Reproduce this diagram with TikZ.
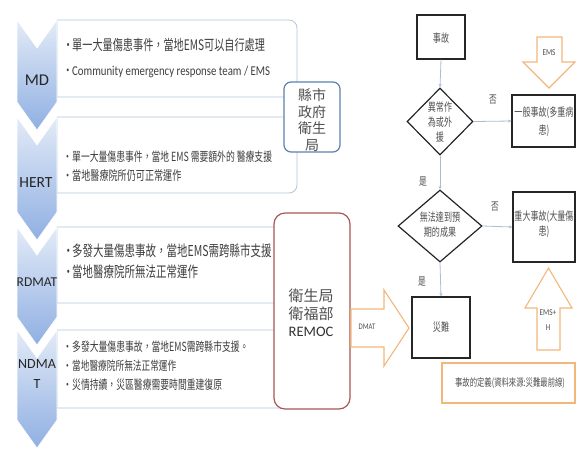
\documentclass[tikz,border=0pt]{standalone}
\usepackage{fontspec}
\setmainfont{Carlito}
\newfontfamily\cjk[FakeStretch=0.7]{Noto Sans CJK TC}
\newfontfamily\cjkn{Noto Sans CJK TC}
\newfontfamily\latc[FakeStretch=0.8]{Carlito}
\usetikzlibrary{shapes.geometric,arrows.meta}
\definecolor{boxline}{HTML}{B4C4DA}
\definecolor{chevtop}{HTML}{E3EBF7}
\definecolor{chevbot}{HTML}{8FAFE2}
\definecolor{labc}{HTML}{262626}
\definecolor{txtc}{HTML}{3F3F3F}
\definecolor{steel}{HTML}{5A82AE}
\definecolor{redb}{HTML}{A95656}
\definecolor{orng}{HTML}{F2B77A}
\definecolor{connc}{HTML}{A9BDD6}
\definecolor{flowtxt}{HTML}{505050}
\newcommand{\fs}[2]{\fontsize{#1}{#2}\selectfont}
\newcommand{\bul}{\makebox[9pt][l]{\cjk •}}
\begin{document}
\begin{tikzpicture}[x=1pt,y=-1pt,
  lbox/.style={draw=boxline, fill=white, line width=0.8pt},
  chev/.style={top color=chevtop, bottom color=chevbot, draw=white, line width=0.6pt},
  chevlab/.style={text=labc, inner sep=0pt},
  ltxt/.style={anchor=west, inner sep=0pt, text=txtc},
  fbox/.style={draw=black!85, line width=1.2pt, fill=white, inner sep=0pt},
  fdia/.style={diamond, draw=black!85, line width=1.2pt, fill=white, inner sep=0pt},
  ftxt/.style={text=flowtxt, align=center, inner sep=0pt, font=\cjk\fs{11.5}{15}},
  conn/.style={draw=connc, line width=0.8pt, -{Stealth[length=3.5pt,width=3pt]}},
  oarrow/.style={draw=orng, line width=1.1pt, fill=white, line join=miter},
  yn/.style={text=flowtxt, inner sep=0pt, font=\cjk\fs{11}{12}}
]
\useasboundingbox[fill=white] (0,0) rectangle (580,448);

% ---- left text boxes
\draw[lbox] (57,20) [rounded corners=8pt] -- (297,20) -- (297,97) [sharp corners] -- (57,97) -- cycle;
\draw[lbox] (57,117) [rounded corners=8pt] -- (297,117) -- (297,193) [sharp corners] -- (57,193) -- cycle;
\draw[lbox] (57,227) [rounded corners=8pt] -- (297,227) -- (297,303) [sharp corners] -- (57,303) -- cycle;
\draw[lbox] (57,330) [rounded corners=8pt] -- (297,330) -- (297,408) [sharp corners] -- (57,408) -- cycle;

% ---- chevrons
\path[chev] (17,20) -- (37,48) -- (57,20) -- (57,102) -- (37,130) -- (17,102) -- cycle;
\path[chev] (17,117) -- (37,145) -- (57,117) -- (57,212) -- (37,240) -- (17,212) -- cycle;
\path[chev] (17,227) -- (37,255) -- (57,227) -- (57,317) -- (37,345) -- (17,317) -- cycle;
\path[chev] (17,330) -- (37,358) -- (57,330) -- (57,420) -- (37,448) -- (17,420) -- cycle;

\node[chevlab, font=\fs{16.5}{16}] (lmd) at (37,80) {MD};
\node[chevlab, font=\fs{15.5}{16}] (lhert) at (36,183) {HERT};
\node[chevlab, font=\fs{13.5}{14}] (lrdmat) at (37,282) {RDMAT};
\node[chevlab, font=\fs{14}{20}, align=center] (lndmat) at (37,374) {NDMA\\T};

% ---- box texts
\node[ltxt, font=\cjk\fs{14.5}{15}] (md1) at (63,45) {\bul 單一大量傷患事件，當地EMS可以自行處理};
\node[ltxt, font=\latc\fs{13.5}{15}] (md2) at (63,72) {\bul Community emergency response team / EMS};
\node[ltxt, font=\cjk\fs{12.6}{14}] (ht1) at (63,157) {\bul 單一大量傷患事件，當地 EMS 需要額外的 醫療支援};
\node[ltxt, font=\cjk\fs{13}{14}] (ht2) at (63,176) {\bul 當地醫療院所仍可正常運作};
\node[ltxt, font=\cjk\fs{15}{15}] (rd1) at (63,251) {\bul 多發大量傷患事故，當地EMS需跨縣市支援。};
\node[ltxt, font=\cjk\fs{15}{15}] (rd2) at (63,272) {\bul 當地醫療院所無法正常運作};
\node[ltxt, font=\cjk\fs{12.6}{14}] (nd1) at (63,347) {\bul 多發大量傷患事故，當地EMS需跨縣市支援。};
\node[ltxt, font=\cjk\fs{12.4}{14}] (nd2) at (63,366) {\bul 當地醫療院所無法正常運作};
\node[ltxt, font=\cjk\fs{12.6}{14}] (nd3) at (63,385) {\bul 災情持續，災區醫療需要時間重建復原};

% ---- government boxes
\node[draw=steel, line width=1.2pt, fill=white, rounded corners=7pt, minimum width=56pt, minimum height=70pt] (gov) at (312,117) {};
\node[text=flowtxt, align=center, inner sep=0pt, font=\cjkn\fs{14}{16.7}] (govtxt) at (312,120) {縣市\\政府\\衛生\\局};
\node[draw=redb, line width=1.2pt, fill=white, rounded corners=11pt, minimum width=76pt, minimum height=196pt] (remoc) at (312,311) {};
\node[text=flowtxt, align=center, inner sep=0pt, font=\cjkn\fs{15}{18.5}] (remoctxt) at (311,305) {衛生局\\衛福部};
\node[text=black!80, inner sep=0pt, font=\fs{14.5}{16}] (remoclab) at (311,332) {REMOC};

% ---- DMAT arrow
\draw[oarrow] (351,309) -- (384,309) -- (384,290) -- (409,328) -- (384,366) -- (384,347) -- (351,347) -- cycle;
\node[text=flowtxt, inner sep=0pt, font=\latc\fs{8.5}{9}] (dmat) at (367,327) {DMAT};

% ---- flowchart
\node[fbox, minimum width=48pt, minimum height=44pt] (acc) at (441,37) {};
\node[ftxt] (acctxt) at (441,38) {事故};
\node[fdia, minimum width=66pt, minimum height=67pt] (d1) at (440,121.5) {};
\node[ftxt] (d1txt) at (440,122) {異常作\\為或外\\援};
\node[fbox, minimum width=63pt, minimum height=52pt] (gen) at (543.5,121) {};
\node[ftxt, font=\cjk\fs{11.5}{18}] (gentxt) at (544,122) {一般事故(多重病\\患)};
\node[fdia, minimum width=84pt, minimum height=72pt] (d2) at (440,226) {};
\node[ftxt] (d2txt) at (440,225) {無法達到預\\期的成果};
\node[fbox, minimum width=62pt, minimum height=70pt] (maj) at (544,227) {};
\node[ftxt] (majtxt) at (544,224) {重大事故(大量傷\\患)};
\node[fbox, minimum width=58pt, minimum height=61pt] (dis) at (441,327.5) {};
\node[ftxt] (distxt) at (441,327) {災難};

\draw[conn] (acc.south) -- (d1.north);
\draw[conn] (d1.east) -- (gen.west);
\draw[conn] (d1.south) -- (d2.north);
\draw[conn] (d2.east) -- (maj.west);
\draw[conn] (d2.south) -- (dis.north);

\node[yn] (no1) at (493,100) {否};
\node[yn] (yes1) at (423,182) {是};
\node[yn] (no2) at (495,207) {否};
\node[yn] (yes2) at (422,282) {是};

% ---- EMS arrows
\draw[oarrow] (537,37) -- (562,37) -- (562,62) -- (575,62) -- (549,88) -- (523,62) -- (537,62) -- cycle;
\node[text=flowtxt, inner sep=0pt, font=\latc\fs{9}{9}] (ems) at (549,53) {EMS};
\draw[oarrow] (537,350) -- (560,350) -- (560,308) -- (572,308) -- (548.5,268) -- (525,308) -- (537,308) -- cycle;
\node[text=flowtxt, inner sep=0pt, align=center, font=\latc\fs{9}{15}] (emsh) at (548,320) {EMS+\\H};

% ---- caption
\node[draw=orng, line width=1.1pt, fill=white, minimum width=133pt, minimum height=40pt] (cap) at (508.5,383) {};
\node[text=flowtxt, inner sep=0pt, font=\cjk\fs{10.5}{11}] (captxt) at (510,383) {事故的定義(資料來源:災難最前線)};
\end{tikzpicture}
\end{document}
